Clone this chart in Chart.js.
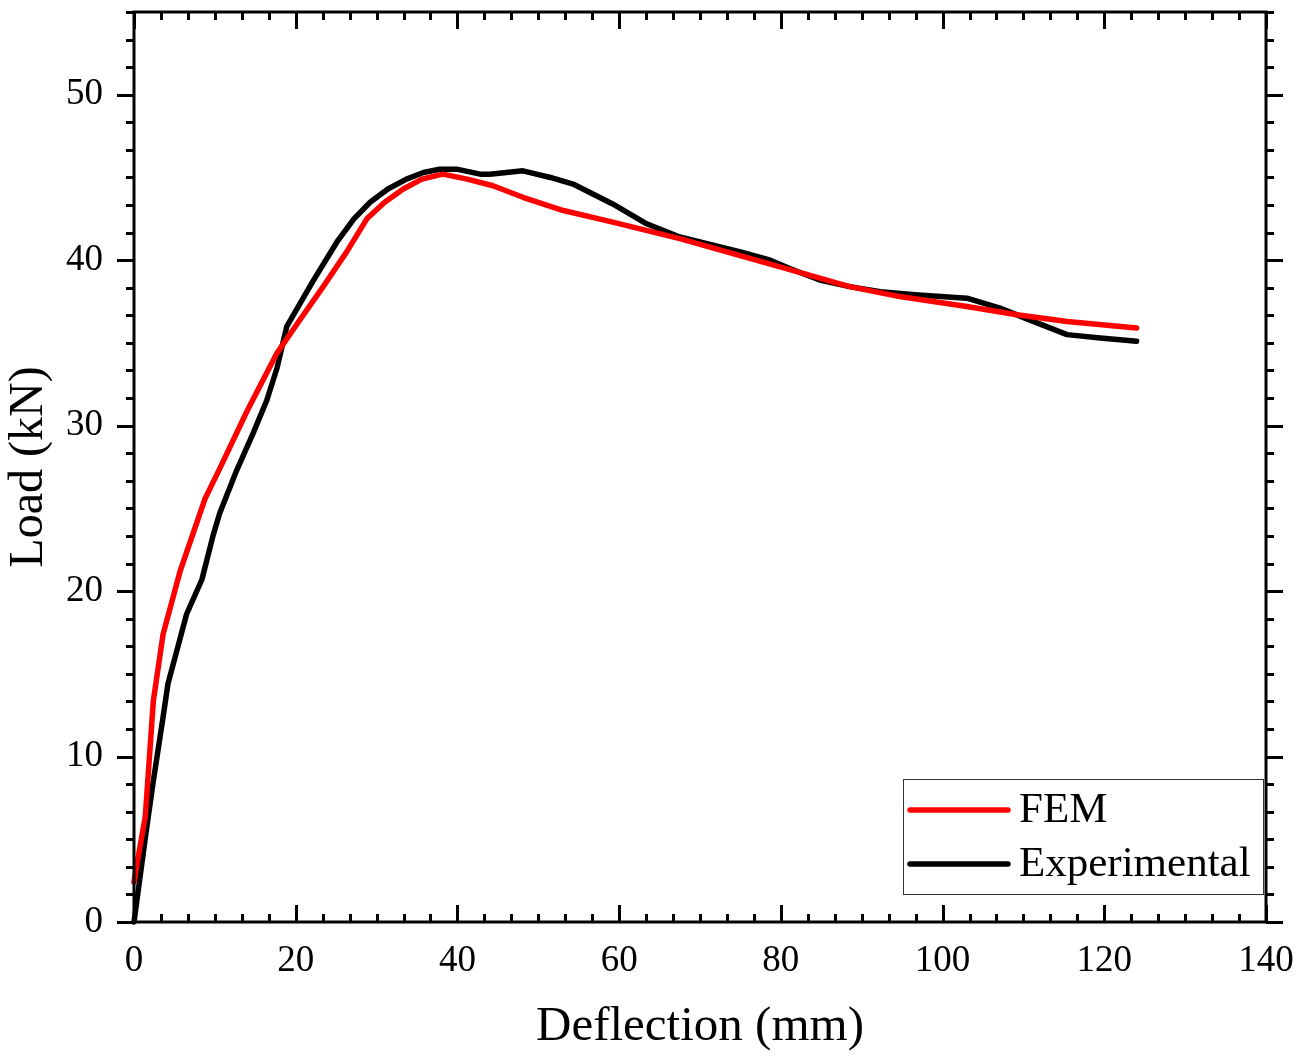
<!DOCTYPE html>
<html>
<head>
<meta charset="utf-8">
<script src="https://cdn.jsdelivr.net/npm/chart.js@4"></script>
<style>
  html, body { margin: 0; padding: 0; background: #fff; }
  #wrap { width: 1306px; height: 1057px; }
</style>
</head>
<body>
<div id="wrap"><canvas id="c" width="1306" height="1057"></canvas></div>
<script>
// ---- data ----
const femX = [0, 0.3, 1.4, 2.4, 3.6, 5.7, 8.8, 10.6, 14.0, 17.7, 20.1, 23.4, 26.3, 28.8, 31.0, 33.3, 35.6, 38.2, 41.2, 44.4, 48.1, 53.1, 59.2, 67.5, 79.9, 88.5, 94.7, 103, 109.2, 115.4, 124];
const femY = [2.4, 3.3, 6.4, 13.4, 17.4, 21.2, 25.6, 27.4, 30.9, 34.4, 36.1, 38.4, 40.5, 42.5, 43.5, 44.3, 44.9, 45.2, 44.9, 44.5, 43.8, 43.0, 42.3, 41.3, 39.6, 38.4, 37.8, 37.2, 36.7, 36.3, 35.9];
const expX = [0, 1.4, 2.35, 3.6, 4.2, 5.3, 6.5, 8.4, 9.8, 10.6, 12.7, 14.7, 16.4, 17.7, 18.9, 22.1, 25.1, 27.2, 29.2, 31.4, 33.7, 35.8, 37.8, 39.9, 42.8, 44.0, 48.1, 51.5, 54.3, 59.2, 63.4, 67.5, 75, 78.7, 81.1, 84.8, 88.5, 92.3, 97, 103, 107.1, 111.2, 115.4, 119.5, 124];
const expY = [0, 5.1, 8.4, 12.4, 14.4, 16.4, 18.6, 20.7, 23.4, 24.7, 27.3, 29.5, 31.5, 33.5, 36.0, 38.7, 41.1, 42.5, 43.5, 44.3, 44.9, 45.3, 45.5, 45.5, 45.2, 45.2, 45.4, 45.0, 44.6, 43.4, 42.2, 41.4, 40.5, 40.0, 39.5, 38.8, 38.4, 38.1, 37.9, 37.7, 37.1, 36.3, 35.5, 35.3, 35.1];
const seriesNames = ['FEM', 'Experimental'];
const xTickLabels = ['0', '20', '40', '60', '80', '100', '120', '140'];
const yTickLabels = ['0', '10', '20', '30', '40', '50'];
const xTitle = 'Deflection (mm)';
const yTitle = 'Load (kN)';

const xMin = 0, xMax = 140, xMajor = 20, xMinorPerMajor = 6;
const yMin = 0, yMax = 55, yMajor = 10, yMinorPerMajor = 6;

const SERIF = "'Liberation Serif', 'Times New Roman', serif";

function pts(xs, ys) { return xs.map((x, i) => ({ x, y: ys[i] })); }

// frame + inward/outward ticks drawn through the scales
const framePlugin = {
  id: 'frameTicks',
  afterDraw(chart) {
    const { ctx, chartArea: { left, right, top, bottom }, scales: { x, y } } = chart;
    ctx.save();
    ctx.strokeStyle = '#000';
    ctx.lineWidth = 3;
    ctx.lineCap = 'butt';
    ctx.strokeRect(left, top, right - left, bottom - top);
    const majLen = 17, minLen = 8;
    const nx = (xMax - xMin) / xMajor * xMinorPerMajor;
    for (let i = 0; i <= nx; i++) {
      const v = xMin + i * xMajor / xMinorPerMajor;
      const px = Math.round(x.getPixelForValue(v)) + 0.5;
      const len = (i % xMinorPerMajor === 0) ? majLen : minLen;
      ctx.beginPath();
      ctx.moveTo(px, bottom); ctx.lineTo(px, bottom - len);
      ctx.moveTo(px, top); ctx.lineTo(px, top + len);
      ctx.stroke();
    }
    const ny = Math.round((yMax - yMin) / yMajor * yMinorPerMajor);
    for (let i = 0; i <= ny; i++) {
      const v = yMin + i * yMajor / yMinorPerMajor;
      if (v > yMax + 1e-6) break;
      const py = Math.round(y.getPixelForValue(v)) + 0.5;
      const len = (i % yMinorPerMajor === 0) ? majLen : minLen;
      ctx.beginPath();
      ctx.moveTo(left, py); ctx.lineTo(left - len, py);
      ctx.moveTo(right, py); ctx.lineTo(right + len, py);
      ctx.stroke();
    }
    ctx.restore();
  }
};

// legend box in lower right of the plot
const legendPlugin = {
  id: 'boxLegend',
  afterDraw(chart) {
    const { ctx } = chart;
    const bx = 903, by = 779, bw = 360, bh = 115;
    ctx.save();
    ctx.fillStyle = '#fff';
    ctx.fillRect(bx, by, bw, bh);
    ctx.strokeStyle = '#333';
    ctx.lineWidth = 1;
    ctx.strokeRect(bx + 0.5, by + 0.5, bw, bh);
    ctx.font = '43px ' + SERIF;
    ctx.textBaseline = 'middle';
    ctx.textAlign = 'left';
    chart.data.datasets.forEach((ds, i) => {
      const cy = by + 31 + i * 54;
      ctx.strokeStyle = ds.borderColor;
      ctx.lineWidth = 5.5;
      ctx.lineCap = 'round';
      ctx.beginPath();
      ctx.moveTo(bx + 7, cy); ctx.lineTo(bx + 105, cy);
      ctx.stroke();
      ctx.fillStyle = '#000';
      ctx.fillText(ds.label, bx + 116, cy + 1);
    });
    ctx.restore();
  }
};

function zeroPad(s) { s.paddingTop = 0; s.paddingBottom = 0; s.paddingLeft = 0; s.paddingRight = 0; }

const lineStyle = { showLine: true, borderWidth: 5.5, pointRadius: 0, tension: 0, borderCapStyle: 'round', borderJoinStyle: 'round' };

new Chart(document.getElementById('c'), {
  type: 'scatter',
  data: {
    datasets: [
      Object.assign({ label: seriesNames[0], data: pts(femX, femY), borderColor: '#ff0000', backgroundColor: '#ff0000' }, lineStyle),
      Object.assign({ label: seriesNames[1], data: pts(expX, expY), borderColor: '#000000', backgroundColor: '#000000' }, lineStyle)
    ]
  },
  options: {
    responsive: false,
    animation: false,
    clip: false,
    layout: { padding: { top: 12, right: 40, bottom: 0, left: 0 } },
    plugins: { legend: { display: false }, tooltip: { enabled: false } },
    scales: {
      x: {
        type: 'linear', min: xMin, max: xMax,
        grid: { display: false, drawTicks: false },
        border: { display: false },
        afterBuildTicks: (s) => { s.ticks = xTickLabels.map(t => ({ value: Number(t) })); },
        ticks: { color: '#000', font: { family: SERIF, size: 37 }, padding: 17, maxRotation: 0, autoSkip: false,
                 callback: (v) => String(v) },
        title: { display: true, text: xTitle, color: '#000', font: { family: SERIF, size: 49 }, padding: { top: 0, bottom: 0 } },
        afterFit: (s) => { s.height = 1057 - 922; zeroPad(s); }
      },
      y: {
        type: 'linear', min: yMin, max: yMax,
        grid: { display: false, drawTicks: false },
        border: { display: false },
        afterBuildTicks: (s) => { s.ticks = yTickLabels.map(t => ({ value: Number(t) })); },
        ticks: { color: '#000', font: { family: SERIF, size: 37 }, padding: 31, autoSkip: false,
                 callback: (v) => String(v) },
        title: { display: true, text: yTitle, color: '#000', font: { family: SERIF, size: 48 }, padding: { top: 1, bottom: 0 } },
        afterFit: (s) => { s.width = 134; zeroPad(s); }
      }
    }
  },
  plugins: [framePlugin, legendPlugin]
});
</script>
</body>
</html>
